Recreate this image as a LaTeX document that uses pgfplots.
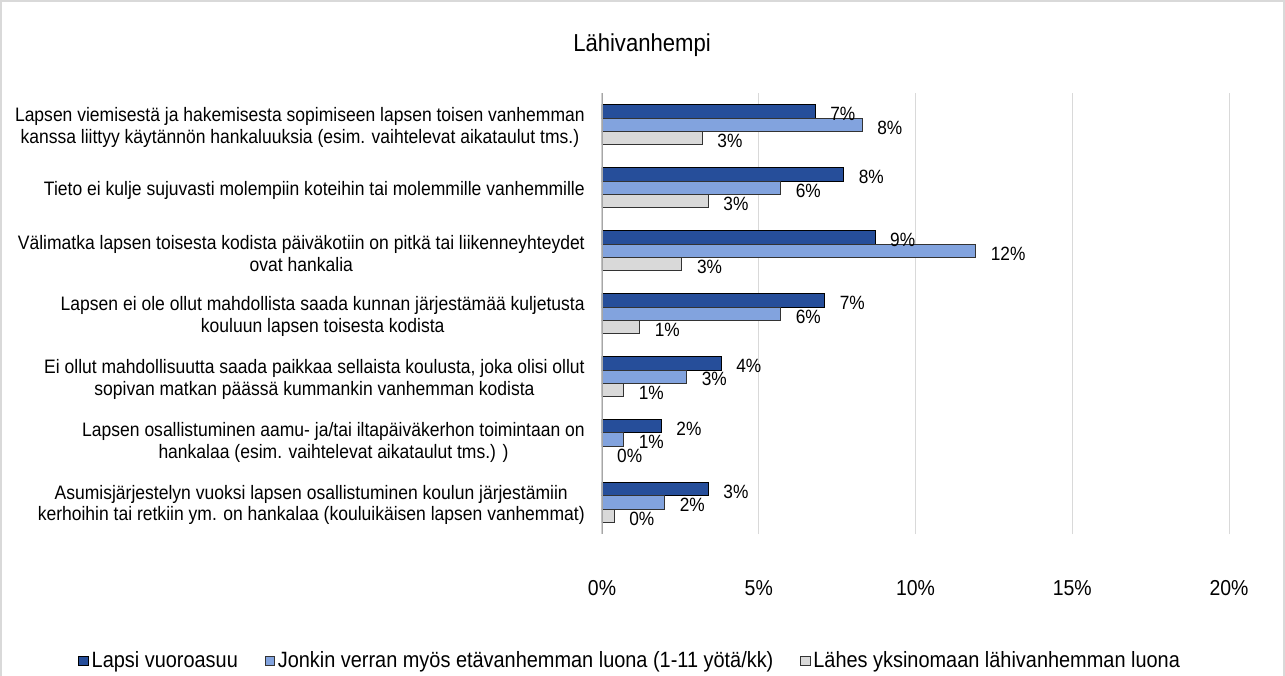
\documentclass[border=0pt]{standalone}
\usepackage{fontspec}
\setmainfont{Liberation Sans}[FakeStretch=0.9]
\usepackage{pgfplots}
\pgfplotsset{compat=1.18}
\definecolor{c1}{RGB}{38,78,154}
\definecolor{c2}{RGB}{130,163,222}
\definecolor{c3}{RGB}{217,217,217}
\definecolor{gridc}{RGB}{217,217,217}
\definecolor{axc}{RGB}{166,166,166}
\newcommand{\catfont}{\fontsize{14.6}{16.1}\selectfont}
\newcommand{\tickfont}{\fontsize{16.2}{19}\selectfont}
\newcommand{\datafont}{\fontsize{14.4}{17}\selectfont}
\newcommand{\legfont}{\fontsize{16.6}{19}\selectfont}

\pgfplotstableread{
y  a     b     c
6  6.80  8.30  3.20
5  7.71  5.70  3.39
4  8.71  11.92 2.55
3  7.10  5.70  1.20
2  3.80  2.70  0.69
1  1.89  0.69  0.00
0  3.39  2.00  0.39
}\datatable

\begin{document}
\begin{tikzpicture}[x=0.75pt,y=-0.75pt]
\useasboundingbox (0,0) rectangle (1285,675);
\draw[gridc, line width=1.5pt] (1,690) -- (1,1) -- (1284,1) -- (1284,690);
\node[font=\fontsize{18.4}{22}\selectfont] at (642,45) {Lähivanhempi};
\begin{axis}[
  at={(451.5pt,-400.5pt)}, anchor=south west,
  scale only axis, width=470.25pt, height=330.4pt,
  xbar, bar width=10pt,
  xmin=0, xmax=20, ymin=-0.5, ymax=6.5,
  axis line style={draw=none},
  xmajorgrids, grid style={gridc, line width=0.75pt},
  major tick length=0pt,
  xtick={0,5,10,15,20},
  /pgf/number format/assume math mode=true,
  xticklabel={\pgfmathprintnumber{\tick}\%},
  xticklabel style={font=\tickfont, anchor=center, inner sep=0pt, yshift=-40.5pt},
  ytick={0,...,6},
  yticklabels={
    {Asumisjärjestelyn vuoksi lapsen osallistuminen koulun järjestämiin\\kerhoihin tai retkiin ym. on hankalaa (kouluikäisen lapsen vanhemmat)},
    {Lapsen osallistuminen aamu- ja/tai iltapäiväkerhon toimintaan on\\hankalaa (esim. vaihtelevat aikataulut tms.) )},
    {Ei ollut mahdollisuutta saada paikkaa sellaista koulusta, joka olisi ollut\\sopivan matkan päässä kummankin vanhemman kodista},
    {Lapsen ei ole ollut mahdollista saada kunnan järjestämää kuljetusta\\kouluun lapsen toisesta kodista},
    {Välimatka lapsen toisesta kodista päiväkotiin on pitkä tai liikenneyhteydet\\ovat hankalia},
    {Tieto ei kulje sujuvasti molempiin koteihin tai molemmille vanhemmille},
    {Lapsen viemisestä ja hakemisesta sopimiseen lapsen toisen vanhemman\\kanssa liittyy käytännön hankaluuksia (esim. vaihtelevat aikataulut tms.)}
  },
  yticklabel style={font=\catfont, align=center, anchor=east, inner sep=0pt, xshift=-12.75pt, yshift=-2pt},
  point meta=x,
  nodes near coords={\pgfmathprintnumber[fixed,precision=0]{\pgfplotspointmeta}\%},
  nodes near coords style={font=\datafont, anchor=west, inner sep=0pt, xshift=11pt, yshift=-2pt, text=black},
  legend columns=3,
  legend style={at={(0.0455,-0.288)}, anchor=center, draw=none, font=\legfont,
    /tikz/every even column/.append style={column sep=18pt}},
  legend image code/.code={\draw[#1, line width=0.75pt] (0pt,-3.6pt) rectangle (7.2pt,3.6pt);},
]
\addplot[fill=c1, draw=black, line width=0.75pt, bar shift=10pt] table[x=a, y=y] {\datatable};
\addplot[fill=c2, draw=black!80, line width=0.75pt, bar shift=0pt] table[x=b, y=y] {\datatable};
\addplot[fill=c3, draw=black!80, line width=0.75pt, bar shift=-10pt] table[x=c, y=y] {\datatable};
\draw[axc, line width=1.5pt] (axis cs:0,-0.5) -- (axis cs:0,6.5);
\legend{Lapsi vuoroasuu, Jonkin verran myös etävanhemman luona (1-11 yötä/kk), Lähes yksinomaan lähivanhemman luona}
\end{axis}
\end{tikzpicture}
\end{document}
